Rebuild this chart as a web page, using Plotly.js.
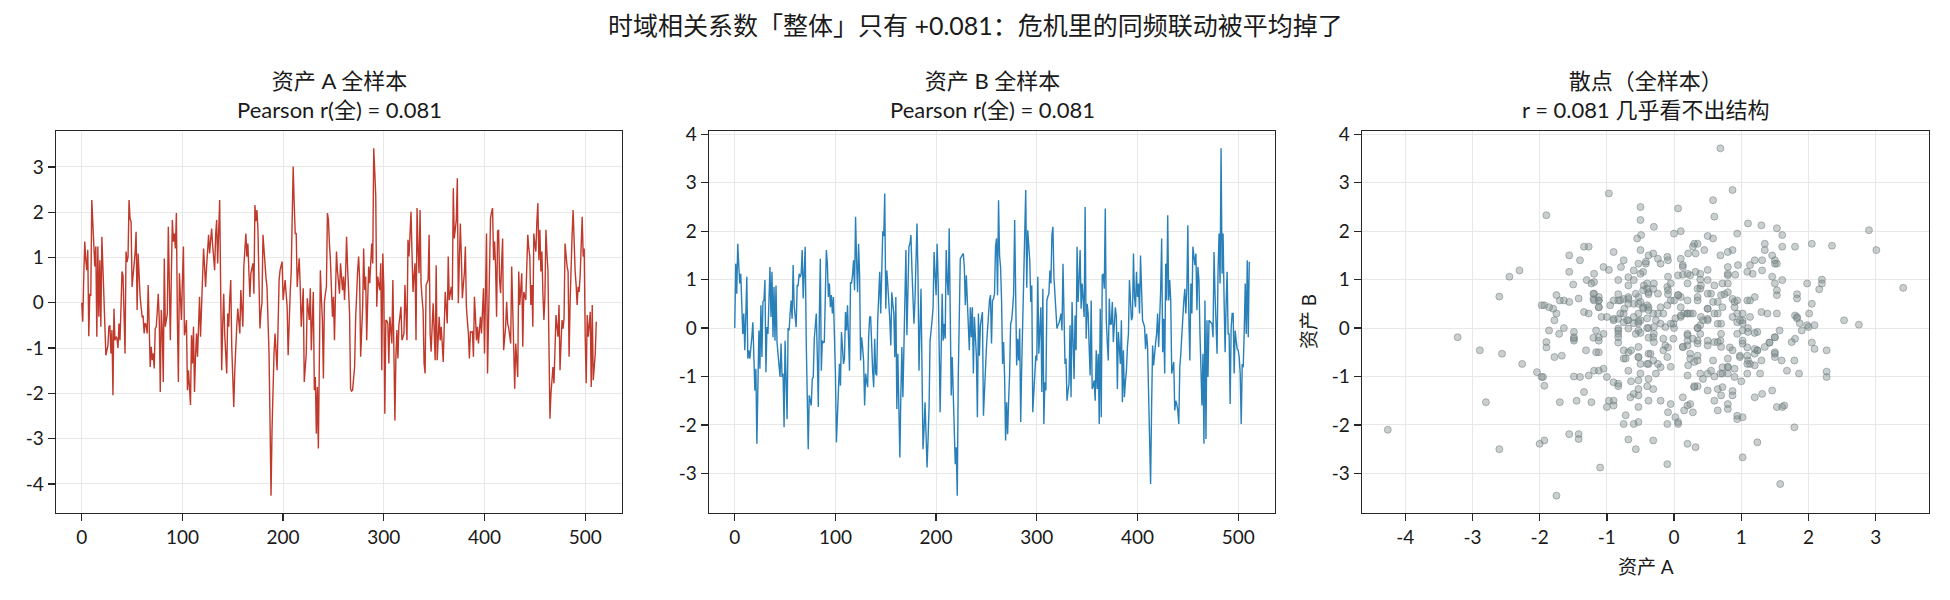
<!DOCTYPE html>
<html>
<head>
<meta charset="utf-8">
<script src="https://cdn.plot.ly/plotly-3.0.1.min.js"></script>
<style>
  html, body { margin: 0; padding: 0; background: #fff; }
  #chart { width: 1950px; height: 600px; }
</style>
</head>
<body>
<div id="chart"></div>
<script>
// Asset A daily values (512 observations)
const seriesA = [
  0.0, -0.42, 0.55, 1.35, 0.95, 0.72, 1.17, -0.74, 0.2, 0.15,
  2.27, 1.8, 1.46, 0.8, 1.24, -0.75, 1.24, -0.31, 0.94, -0.53,
  1.46, 0.9, 0.2, -0.4, -1.16, -1.05, -0.95, -0.53, -0.5, -1.12,
  -0.6, -2.04, -0.13, -0.83, -0.75, -0.79, -1.0, -0.46, -0.83, -0.1,
  0.69, 0.6, -0.3, -1.12, 1.13, 0.9, 1.02, 2.27, 1.86, 1.79,
  0.35, 0.6, 0.94, 1.1, 1.57, -0.16, 1.09, 0.5, 0.13, -0.1,
  -0.31, -0.3, -0.68, -0.45, -0.5, -0.68, 0.39, -0.5, -1.42, -0.97,
  -1.27, -1.12, -1.45, -0.57, -0.53, -0.2, 0.2, -0.38, -1.97, -0.16,
  -0.6, -1.75, 0.98, -0.53, -0.4, -0.24, 1.68, 0.5, -0.83, 0.6,
  1.83, 1.35, 1.53, 1.2, 1.98, -0.38, -1.75, 0.65, 0.1, -0.38,
  0.5, 1.24, -0.72, -0.6, -0.38, -1.93, -1.49, -1.9, -2.26, -0.72,
  -1.34, -0.53, -1.97, -1.2, -0.68, -1.19, -0.4, 0.13, -0.75, -0.09,
  0.6, 1.2, 0.8, 0.35, 0.8, 1.1, 1.5, 1.09, 1.3, 1.64,
  1.28, 1.0, 0.72, 1.5, 1.83, 0.87, 1.5, 2.27, 0.3, -1.49,
  -0.5, 0.2, -0.7, -1.2, -1.56, -0.24, -0.53, 0.1, 0.5, -0.97,
  -1.8, -2.3, -1.5, -0.83, -0.5, -0.13, -0.38, -0.68, 0.28, -0.1,
  -0.53, 0.8, 1.2, 1.53, 1.02, 1.31, 0.7, 0.13, 0.65, 0.75,
  0.87, 0.2, 2.16, 1.8, 2.05, 1.61, 0.5, -0.57, -0.2, 0.0,
  1.5, 1.1, 0.8, 0.55, 0.35, -0.4, -1.12, -2.6, -4.26, -2.8,
  -1.56, -1.1, -0.68, -1.0, -1.49, -0.5, 0.5, 0.72, 0.8, 0.91,
  0.06, 0.3, 0.5, 0.2, -0.09, -1.16, -0.24, 0.2, 0.65, 1.8,
  3.01, 2.2, 1.53, 1.53, 0.35, 0.7, 0.98, 0.35, -0.53, -0.1,
  0.32, -1.75, -1.4, -1.12, 0.1, -0.1, -0.38, 0.32, -1.05, -0.4,
  0.24, -1.93, -1.64, -2.89, -1.86, -3.22, -1.12, 0.72, 0.1, -0.38,
  -1.67, 0.02, 0.2, 0.35, 1.98, 1.83, 1.3, 0.94, 0.3, -0.31,
  0.13, -0.83, 0.2, 1.13, 0.7, 0.35, 0.2, 0.87, 0.5, 0.28,
  0.58, 0.06, 0.58, 1.46, 0.8, 0.35, -0.24, -1.9, -1.95, -1.93,
  -1.7, -1.42, -0.38, 0.39, 0.7, 1.02, 0.5, -1.19, -0.5, -0.09,
  1.2, 0.28, 0.58, -0.83, 0.06, 0.8, 0.43, 0.9, 1.31, 0.87,
  3.41, 2.9, 2.35, -0.09, 0.58, 0.4, 0.28, 0.87, -1.49, 1.09,
  0.35, -2.45, -0.38, -0.4, -0.46, -1.34, -0.31, -0.6, -0.9, 0.5,
  -1.12, -2.6, -1.2, -0.6, -1.23, -0.49, -0.3, -0.09, -0.83, -0.75,
  -0.68, 0.39, -0.53, -0.83, 1.39, 1.02, 1.5, 2.01, 1.09, 0.24,
  0.6, 0.87, -0.83, 2.09, 1.2, 0.65, 2.05, 0.43, 0.1, -0.16,
  -1.34, -1.56, 0.39, 0.45, 0.5, 1.5, -0.68, -1.08, -0.5, -0.01,
  -0.6, -1.27, 0.83, -1.27, -0.8, -0.31, -0.83, -0.53, -0.9, -1.31,
  -0.53, 0.24, -0.1, -0.46, 1.02, 0.06, 0.2, 0.35, 0.06, 2.53,
  1.42, 1.6, 1.83, 2.75, -0.01, 0.9, 1.75, 1.02, 0.1, 0.4,
  0.65, 1.24, -0.09, -0.4, -0.68, -1.23, -0.64, -0.65, -0.64, -1.19,
  0.13, -0.3, -0.83, -0.53, -0.9, -0.6, -0.31, -0.68, -0.2, 0.32,
  -1.12, 0.2, 1.53, -1.56, -0.3, 0.98, 1.87, 2.0, 2.09, 0.94,
  1.35, 0.8, -0.31, 1.58, 1.61, 0.5, 0.21, 0.87, 1.42, -1.05,
  -0.8, -0.53, 0.02, -0.46, -0.55, -0.68, -0.9, 0.8, -0.2, -1.19,
  -1.9, -0.9, -1.3, -1.64, 0.69, -0.05, 0.3, 0.65, -0.97, 0.24,
  0.15, 0.06, 0.8, 1.5, 1.2, 1.02, -0.05, 0.39, -0.53, 1.53,
  1.3, 1.13, 1.79, 2.2, 0.94, 1.61, 0.69, 1.13, 0.21, -0.38,
  0.13, 1.61, 1.1, 0.72, -0.9, -2.56, -2.0, -1.7, -1.42, -1.78,
  -1.0, -0.27, -0.53, -0.75, -0.05, -1.49, -0.9, -0.38, -0.57, -0.35,
  1.31, 0.94, 0.8, 0.69, -1.19, 0.0, 0.94, 1.5, 2.05, 1.09,
  0.7, 0.39, -0.05, 0.35, 0.24, 0.6, 1.09, 1.9, 1.02, 1.2,
  -0.75, -1.78, -0.27, -0.75, -0.5, -0.2, -1.86, -0.05, -1.71, -1.4,
  -1.12, -0.42
];

// Asset B daily values (512 observations)
const seriesB = [
  0.0, 1.33, 0.71, 1.74, 1.3, 0.92, 1.12, 0.4, -0.12, 0.3,
  -0.46, 0.26, 1.06, -0.63, -0.46, -0.63, -0.46, -0.19, 0.12, -0.6,
  -1.29, -0.84, -2.39, -1.2, -0.05, -0.84, 0.47, -0.6, 0.54, 0.57,
  0.99, -0.91, 0.02, -0.12, 0.6, 1.26, 0.23, 1.16, -0.19, 0.85,
  -0.26, 0.88, -0.29, -0.5, -0.74, -1.01, -0.32, -1.01, -0.94, -2.05,
  -0.26, -1.0, -1.88, 0.0, -0.05, 0.3, 0.57, 0.19, 1.3, 0.47,
  0.3, 0.02, 0.88, 0.88, 1.12, 1.05, 1.12, 1.61, 0.61, 1.2,
  1.68, -0.26, -1.5, -2.5, -1.39, -1.5, -1.6, -1.05, -1.01, -0.22,
  0.1, 0.3, -0.57, -1.63, 0.2, 1.43, -0.88, -0.26, -0.3, -0.29,
  0.7, 1.61, 1.33, 0.64, 0.92, 0.43, 0.68, 0.3, 0.64, 0.0,
  -0.94, -2.36, -1.8, -1.36, -0.74, -1.19, -0.08, -0.4, -0.74, -0.63,
  0.33, -0.05, 0.47, -0.2, -0.88, 0.95, 0.92, 1.1, 1.4, 0.78,
  2.3, 1.4, 0.74, 1.74, 1.09, -0.67, -0.19, -0.4, -0.67, -1.6,
  -0.94, -1.1, -1.22, -0.19, 0.23, 0.23, -0.6, -0.9, -1.22, -0.22,
  -0.94, -0.98, 0.16, 0.6, 1.16, 0.3, 1.33, 2.0, 1.9, 2.78,
  0.4, 1.19, 0.9, 0.57, 0.16, -0.36, 0.74, 0.5, 0.3, -0.6,
  0.64, -1.67, -0.53, -1.63, -2.67, -1.36, -0.39, -1.43, -0.29, 0.7,
  1.61, -0.15, 0.8, 1.68, 1.74, 1.92, 1.2, 0.71, 0.09, 0.57,
  1.4, 2.16, 1.12, -0.88, 0.0, 0.81, -0.88, -2.5, -2.1, -1.53,
  -2.19, -2.88, -2.3, -1.63, -0.26, -0.1, 0.16, 0.43, 1.57, 1.1,
  0.68, 1.74, 0.99, -0.36, -1.74, -0.5, 0.71, -0.26, 0.09, -0.22,
  1.61, 1.0, 0.68, 2.06, 0.64, -1.39, -0.6, -1.2, -1.94, -2.81,
  -2.46, -3.46, -1.01, 0.43, 1.43, 1.47, 1.5, 1.54, 1.26, 0.47,
  1.09, 0.47, 0.0, -0.46, 0.43, -0.19, 0.43, -0.94, 0.23, -0.2,
  -0.57, -1.84, 0.3, -0.57, 0.06, 0.2, 0.33, -1.81, -1.2, -0.67,
  -0.39, -0.05, 0.3, 0.57, 0.68, -0.32, 0.57, 0.6, 0.71, 1.68,
  1.85, 0.68, 2.64, 1.5, 1.26, 0.57, -0.74, -0.29, -1.01, -2.32,
  -1.53, -2.19, -1.5, -0.94, 0.09, 0.16, 0.4, 0.71, 2.23, 0.7,
  -0.77, -0.22, -0.67, -0.01, -1.94, -0.8, 0.16, 0.43, 1.4, 2.85,
  0.83, 2.02, 1.7, 1.4, 0.54, 0.88, -1.74, -1.39, -1.0, -0.57,
  -0.67, 1.06, -0.53, 0.0, 0.43, -1.32, 0.81, -1.98, -1.12, -1.29,
  0.57, 0.65, 0.71, 1.19, 0.92, 1.92, 2.09, 1.06, 0.7, 0.3,
  -0.01, 0.06, 0.1, 0.19, 0.3, -0.05, 1.33, 0.3, -0.74, -0.63,
  -1.5, -1.3, -1.15, 0.06, -1.43, 0.54, -0.3, -1.05, 0.26, -0.46,
  1.68, 0.54, 1.0, 1.61, 0.4, 0.92, 0.6, 0.23, 2.5, -0.22,
  0.5, 0.3, -0.4, -0.98, 0.57, -1.26, -1.2, -1.08, -1.5, -0.46,
  -1.26, -0.53, -1.98, 0.4, -1.84, 1.09, 1.12, 0.81, 2.47, 0.16,
  -0.3, -0.67, 0.61, 0.07, 0.09, 0.54, -0.29, 0.1, 0.43, 0.23,
  -1.26, -0.08, -0.4, -0.74, 0.16, -1.53, -0.46, -1.43, -1.1, -0.88,
  -0.39, -0.12, 0.99, 0.5, 0.16, 0.23, 1.54, 0.64, 0.43, 1.16,
  0.64, 0.92, 0.3, 1.5, 0.92, 0.16, 0.1, 0.02, -0.43, -0.12,
  -0.39, -1.57, -2.32, -3.22, -1.63, -0.36, -0.77, -0.46, -0.3, -0.12,
  0.3, -0.39, 0.2, 0.78, 1.85, -0.5, 0.19, -0.94, 1.33, 0.57,
  2.33, 0.57, 0.99, 0.57, -0.94, -0.8, -0.7, -1.7, -1.5, -1.57,
  -1.7, -1.98, -0.81, -0.53, -0.1, 0.3, 0.57, 0.81, 0.3, 0.78,
  2.12, 0.23, -0.67, 0.92, 0.3, 1.68, 1.5, 1.3, 1.54, 0.37,
  1.26, 0.99, -0.08, -0.81, -1.6, -0.53, -2.39, 0.57, -2.29, 0.16,
  -1.01, 0.16, 0.14, 0.12, 0.09, -0.19, 1.57, 0.7, -0.12, -0.53,
  1.19, 1.95, 0.92, 3.71, 1.12, 1.95, 0.57, -0.5, 0.5, 1.16,
  -0.12, -0.12, -1.57, 0.0, 0.3, 0.3, -0.94, -0.05, -0.26, -0.43,
  -0.46, -0.6, -0.94, -1.98, -0.74, -0.81, -0.05, 0.92, -0.12, 1.4,
  -0.19, 1.37
];

// Tick positions and labels (plain hyphen-minus for negatives)
const timeTicks = [0, 100, 200, 300, 400, 500];
const ticksA = [-4, -3, -2, -1, 0, 1, 2, 3];
const ticksB = [-3, -2, -1, 0, 1, 2, 3, 4];
const scatterXTicks = [-4, -3, -2, -1, 0, 1, 2, 3];
const label = v => String(v);

// Text
const mainTitle = '时域相关系数「整体」只有 +0.081：危机里的同频联动被平均掉了';
const panelTitles = [
  ['资产 A 全样本', 'Pearson r(全) = 0.081'],
  ['资产 B 全样本', 'Pearson r(全) = 0.081'],
  ['散点（全样本）', 'r = 0.081 几乎看不出结构']
];
const scatterXLabel = '资产 A';
const scatterYLabel = '资产 B';

const COLOR_A = '#c0392b';
const COLOR_B = '#2980b9';
const FONT = 'Lato, "Noto Sans CJK SC", sans-serif';

const W = 1950, H = 600;
const steps = seriesA.map((_, i) => i);

// 5% padding on both sides of the data span
function padRange(arr) {
  const lo = Math.min(...arr), hi = Math.max(...arr);
  const m = (hi - lo) * 0.05;
  return [lo - m, hi + m];
}

// Panel frames in pixels
const frames = [[56, 622], [709, 1275], [1362, 1929]];
const plotTop = 131, plotBottom = 513;
const px = v => v / W;
const py = v => 1 - v / H;

const axisBase = {
  showline: true, mirror: true, linecolor: '#262626', linewidth: 1.4,
  ticks: 'outside', ticklen: 7, tickwidth: 1.3, tickcolor: '#262626',
  showgrid: true, gridcolor: '#e8e8e8', gridwidth: 1,
  zeroline: false, tickfont: {family: FONT, size: 19, color: '#1a1a1a'},
  fixedrange: true, automargin: false
};

function xAxis(i, range, ticks, anchor) {
  return Object.assign({}, axisBase, {
    domain: [px(frames[i][0]), px(frames[i][1])], range: range, anchor: anchor,
    tickmode: 'array', tickvals: ticks, ticktext: ticks.map(label)
  });
}
function yAxis(range, ticks, anchor) {
  return Object.assign({}, axisBase, {
    domain: [py(plotBottom), py(plotTop)], range: range, anchor: anchor,
    tickmode: 'array', tickvals: ticks, ticktext: ticks.map(label)
  });
}

const data = [
  {x: steps, y: seriesA, type: 'scatter', mode: 'lines', xaxis: 'x', yaxis: 'y',
   line: {color: COLOR_A, width: 1.4}, hoverinfo: 'skip'},
  {x: steps, y: seriesB, type: 'scatter', mode: 'lines', xaxis: 'x2', yaxis: 'y2',
   line: {color: COLOR_B, width: 1.4}, hoverinfo: 'skip'},
  {x: seriesA, y: seriesB, type: 'scatter', mode: 'markers', xaxis: 'x3', yaxis: 'y3',
   marker: {size: 7, color: 'rgba(127,140,141,0.42)',
            line: {color: 'rgba(110,122,123,0.5)', width: 1}}, hoverinfo: 'skip'}
];

const annotations = [
  {text: mainTitle, x: 0.5, y: py(25), xref: 'paper', yref: 'paper',
   xanchor: 'center', yanchor: 'middle', showarrow: false,
   font: {family: FONT, size: 25, color: '#1a1a1a'}}
];
// Two-line panel titles, one text block each
panelTitles.forEach((lines, i) => {
  const cx = px((frames[i][0] + frames[i][1]) / 2);
  annotations.push({text: lines.join('<br>'), x: cx, y: py(95), xref: 'paper', yref: 'paper',
    xanchor: 'center', yanchor: 'middle', align: 'center', showarrow: false,
    font: {family: FONT, size: 22, color: '#1a1a1a'}});
});
annotations.push({text: scatterXLabel, x: px((frames[2][0] + frames[2][1]) / 2), y: py(566),
  xref: 'paper', yref: 'paper', xanchor: 'center', yanchor: 'middle', showarrow: false,
  font: {family: FONT, size: 19, color: '#1a1a1a'}});
annotations.push({text: scatterYLabel, x: px(1308), y: py((plotTop + plotBottom) / 2),
  xref: 'paper', yref: 'paper', xanchor: 'center', yanchor: 'middle', showarrow: false,
  textangle: -90, font: {family: FONT, size: 19, color: '#1a1a1a'}});

const timeRange = padRange(steps);
const layout = {
  width: W, height: H,
  margin: {l: 0, r: 0, t: 0, b: 0},
  paper_bgcolor: '#ffffff', plot_bgcolor: '#ffffff',
  showlegend: false,
  font: {family: FONT, color: '#1a1a1a'},
  xaxis: xAxis(0, timeRange, timeTicks, 'y'),
  yaxis: yAxis(padRange(seriesA), ticksA, 'x'),
  xaxis2: xAxis(1, timeRange, timeTicks, 'y2'),
  yaxis2: yAxis(padRange(seriesB), ticksB, 'x2'),
  xaxis3: xAxis(2, padRange(seriesA), scatterXTicks, 'y3'),
  yaxis3: yAxis(padRange(seriesB), ticksB, 'x3'),
  annotations: annotations
};

Plotly.newPlot('chart', data, layout, {staticPlot: true, displayModeBar: false});
</script>
</body>
</html>
